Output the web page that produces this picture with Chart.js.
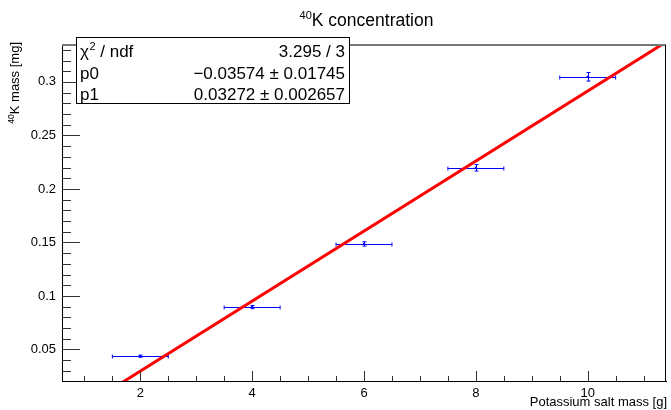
<!DOCTYPE html>
<html lang="en">
<head>
	<meta charset="UTF-8">
	<title>40K concentration</title>
	<script src="https://cdn.jsdelivr.net/npm/chart.js"></script>
	<style>
		body { margin: 0; background: #fff; }
		#wrap { width: 671px; height: 410px; }
	</style>
</head>
<body>
	<div id="wrap">
		<canvas id="chart"></canvas>
	</div>
	<script>
		// measured points (x = salt mass in g, y = 40K mass in mg)
		const xVals = [2, 4, 6, 8, 10];
		const xErr = [0.5, 0.5, 0.5, 0.5, 0.5];
		const yVals = [0.0437, 0.0896, 0.1486, 0.2197, 0.3048];
		const yErr = [0.0010, 0.0015, 0.0020, 0.0030, 0.0040];

		// fitted line ends (p0 + p1*x at the frame edges)
		const fitX = [0.6, 11.4];
		const fitY = [-0.0161, 0.3373];

		const xTickLabels = [2, 4, 6, 8, 10];
		const yTickLabels = [0.05, 0.1, 0.15, 0.2, 0.25, 0.3];

		const statNames = ['ndf', 'p0', 'p1'];
		const statValues = ['3.295 / 3', '\u22120.03574 \u00b1 0.01745', '0.03272 \u00b1 0.002657'];

		const FONT = "'Liberation Sans', Arial, sans-serif";
		const ctx = document.getElementById('chart');

		const rootStyle = {
			id: 'rootStyle',
			beforeDatasetsDraw(chart) {
				const c = chart.ctx, xs = chart.scales.x, ys = chart.scales.y;
				c.save();
				c.strokeStyle = '#0000ff';
				c.lineWidth = 1;
				for (let i = 0; i < xVals.length; i++) {
					const px = Math.round(xs.getPixelForValue(xVals[i])) + 0.5;
					const py = Math.round(ys.getPixelForValue(yVals[i])) + 0.5;
					const xl = xs.getPixelForValue(xVals[i] - xErr[i]);
					const xr = xs.getPixelForValue(xVals[i] + xErr[i]);
					const yt = ys.getPixelForValue(yVals[i] + yErr[i]);
					const yb = ys.getPixelForValue(yVals[i] - yErr[i]);
					c.beginPath();
					c.moveTo(xl, py); c.lineTo(xr, py);
					c.moveTo(xl, py - 2); c.lineTo(xl, py + 2);
					c.moveTo(xr, py - 2); c.lineTo(xr, py + 2);
					c.moveTo(px, yt); c.lineTo(px, yb);
					c.moveTo(px - 2, yt); c.lineTo(px + 2, yt);
					c.moveTo(px - 2, yb); c.lineTo(px + 2, yb);
					c.stroke();
				}
				c.restore();
			},
			afterDraw(chart) {
				const c = chart.ctx, a = chart.chartArea;
				const xs = chart.scales.x, ys = chart.scales.y;
				c.save();

				// inward ticks: x every 0.5, y every 0.01
				c.strokeStyle = '#333';
				c.lineWidth = 1;
				c.beginPath();
				for (let k = Math.ceil(xs.min * 2); k <= Math.floor(xs.max * 2); k++) {
					const len = k % 4 === 0 ? 10 : 5;
					const px = Math.round(xs.getPixelForValue(k / 2)) + 0.5;
					c.moveTo(px, a.bottom);
					c.lineTo(px, a.bottom - len);
				}
				for (let k = Math.ceil(ys.min * 100); k <= Math.floor(ys.max * 100); k++) {
					const len = k % 5 === 0 ? 18 : 9;
					const py = Math.round(ys.getPixelForValue(k / 100)) + 0.5;
					c.moveTo(a.left, py);
					c.lineTo(a.left + len, py);
				}
				c.stroke();

				// top and right frame
				c.strokeStyle = '#777';
				c.lineWidth = 2;
				c.beginPath();
				c.moveTo(a.left, a.top); c.lineTo(a.right, a.top);
				c.stroke();
				c.strokeStyle = '#000';
				c.lineWidth = 1;
				c.beginPath();
				c.moveTo(a.right - 0.5, a.top); c.lineTo(a.right - 0.5, a.bottom);
				c.stroke();

				c.fillStyle = '#000';
				c.textBaseline = 'alphabetic';

				// title with superscript
				c.font = '17.5px ' + FONT;
				const main = 'K concentration';
				const wMain = c.measureText(main).width;
				c.font = '11px ' + FONT;
				const wSup = c.measureText('40').width;
				const tx = 366.5 - (wMain + wSup) / 2;
				c.textAlign = 'left';
				c.fillText('40', tx, 19);
				c.font = '17.5px ' + FONT;
				c.fillText(main, tx + wSup, 26);

				// x axis title
				c.font = '13px ' + FONT;
				c.textAlign = 'right';
				c.fillText('Potassium salt mass [g]', a.right + 1, 406);

				// y axis title, rotated, ends at top of frame
				c.save();
				c.translate(19, 42);
				c.rotate(-Math.PI / 2);
				c.textAlign = 'left';
				c.font = '13px ' + FONT;
				const yMain = 'K mass [mg]';
				const wY = c.measureText(yMain).width;
				c.font = '8.5px ' + FONT;
				const wY40 = c.measureText('40').width;
				c.fillText('40', -(wY + wY40), -5);
				c.font = '13px ' + FONT;
				c.fillText(yMain, -wY, 0);
				c.restore();

				// stats box
				const bx = 76.5, by = 37.5, bw = 273, bh = 66;
				c.fillStyle = '#fff';
				c.fillRect(bx, by, bw, bh);
				c.strokeStyle = '#000';
				c.lineWidth = 1;
				c.strokeRect(bx, by, bw, bh);
				c.fillStyle = '#000';
				const rowY = [57, 78.5, 100];
				c.font = '17px ' + FONT;
				c.textAlign = 'left';
				// chi2 / ndf with superscript 2
				c.fillText('\u03c7', 80, rowY[0]);
				const wChi = c.measureText('\u03c7').width;
				c.font = '11px ' + FONT;
				c.fillText('2', 80 + wChi + 0.5, rowY[0] - 7);
				const w2 = c.measureText('2').width;
				c.font = '17px ' + FONT;
				c.fillText(' / ' + statNames[0], 80 + wChi + w2 + 0.5, rowY[0]);
				c.fillText(statNames[1], 80, rowY[1]);
				c.fillText(statNames[2], 80, rowY[2]);
				c.textAlign = 'right';
				for (let i = 0; i < statValues.length; i++) {
					c.fillText(statValues[i], 345, rowY[i]);
				}
				c.restore();
			}
		};

		function pickLabel(list, v) {
			for (const l of list) {
				if (Math.abs(l - v) < 1e-6) return String(l);
			}
			return '';
		}

		new Chart(ctx, {
			type: 'scatter',
			data: {
				datasets: [{
					type: 'line',
					data: fitX.map((x, i) => ({ x: x, y: fitY[i] })),
					borderColor: '#ff0000',
					borderWidth: 3,
					pointRadius: 0,
					fill: false,
					clip: 0
				}, {
					data: xVals.map((x, i) => ({ x: x, y: yVals[i] })),
					backgroundColor: '#0000ff',
					borderColor: '#0000ff',
					pointStyle: 'rect',
					pointRadius: 1.5,
					borderWidth: 0
				}]
			},
			options: {
				responsive: true,
				maintainAspectRatio: false,
				devicePixelRatio: 1,
				animation: false,
				layout: { padding: { top: 45, right: 4, left: 0, bottom: 0 } },
				plugins: {
					legend: { display: false },
					tooltip: { enabled: false },
					title: { display: false }
				},
				scales: {
					x: {
						type: 'linear',
						min: 0.6,
						max: 11.4,
						afterFit: s => { s.height = 29; },
						grid: { display: false, drawTicks: false },
						border: { display: true, color: '#000', width: 1 },
						ticks: {
							stepSize: 0.5,
							autoSkip: false,
							maxRotation: 0,
							padding: 5,
							color: '#000',
							font: { family: FONT, size: 13 },
							callback: v => pickLabel(xTickLabels, v)
						}
					},
					y: {
						type: 'linear',
						min: 0.0205,
						max: 0.3345,
						afterFit: s => { s.width = 62; },
						grid: { display: false, drawTicks: false },
						border: { display: true, color: '#000', width: 1 },
						ticks: {
							stepSize: 0.01,
							autoSkip: false,
							padding: 6,
							color: '#000',
							font: { family: FONT, size: 13 },
							callback: v => pickLabel(yTickLabels, v)
						}
					}
				}
			},
			plugins: [rootStyle]
		});
	</script>
</body>
</html>
